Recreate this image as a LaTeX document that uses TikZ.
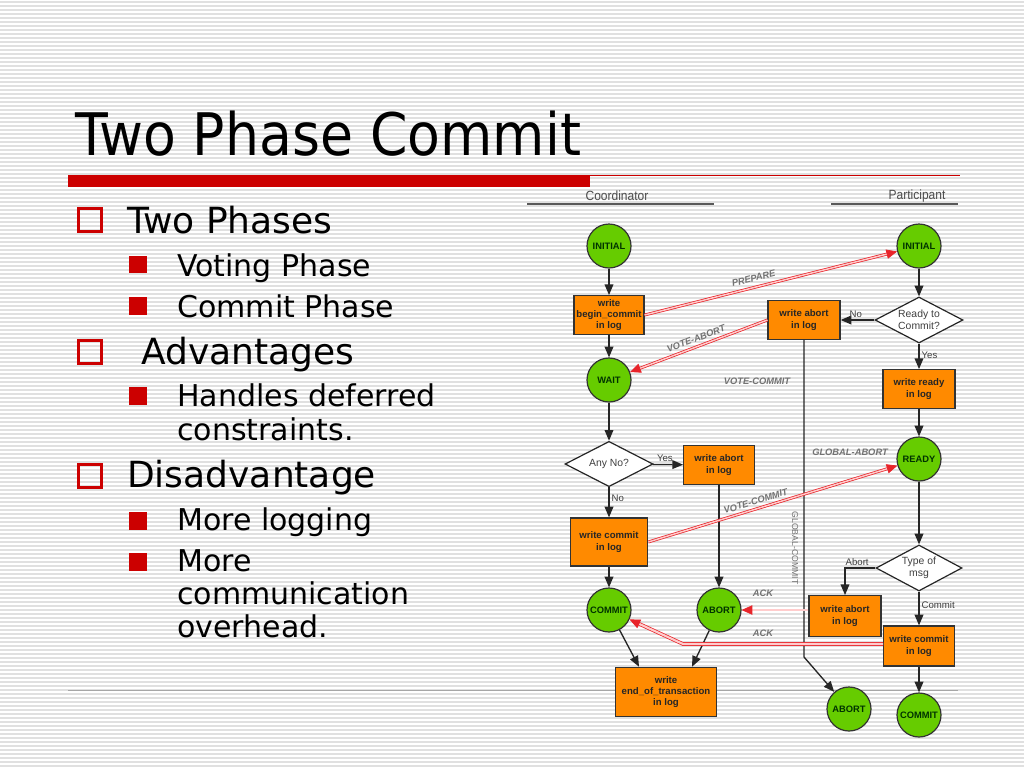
\documentclass[tikz,border=0pt]{standalone}
\usepackage{fontspec}
\setmainfont{DejaVu Sans}
\newfontfamily\diagfont{Liberation Sans}
\usetikzlibrary{arrows.meta,shapes.geometric,calc}

\definecolor{slidered}{HTML}{CC0000}
\definecolor{stripegray}{HTML}{E0E0E0}
\definecolor{nodegreen}{HTML}{66CC00}
\definecolor{nodeorange}{HTML}{FF8A00}
\definecolor{msgred}{HTML}{E8242A}

\begin{document}
\begin{tikzpicture}[x=0.75pt, y=-0.75pt,
  bigbox/.style={draw=slidered, line width=2.25pt},
  smallbox/.style={fill=slidered},
  headtext/.style={anchor=base west, inner sep=0pt, font=\fontsize{27}{27}\selectfont},
  subtext/.style={anchor=base west, inner sep=0pt, align=left, font=\fontsize{22.5}{25.5}\selectfont},
  state/.style={circle, draw=black!80, line width=0.9pt, fill=nodegreen, minimum size=33pt,
    inner sep=0pt, text=green!20!black, font=\diagfont\bfseries\fontsize{7}{8}\selectfont},
  logbox/.style={rectangle, draw=black!80, line width=0.9pt, fill=nodeorange, inner sep=1pt,
    align=center, text=black!85, font=\diagfont\bfseries\fontsize{7.2}{8.6}\selectfont},
  decision/.style={diamond, aspect=1.9, draw=black!85, line width=0.9pt, fill=white, inner sep=0pt,
    align=center, text=black!75, font=\diagfont\fontsize{7.8}{8.6}\selectfont},
  flow/.style={draw=black!85, line width=1pt, -{Triangle[length=8pt, width=6.5pt]}},
  flowlabel/.style={inner sep=1.5pt, text=black!75, font=\diagfont\fontsize{7.2}{8}\selectfont},
  msg/.style={draw=msgred, line width=0.55pt, double=pink!80, double distance=1.1pt,
    -{Triangle[length=8pt, width=7pt]}},
  msglabel/.style={inner sep=1pt, text=black!55, font=\diagfont\bfseries\itshape\fontsize{7}{7}\selectfont},
  lanehead/.style={inner sep=0pt, text=black!70, font=\diagfont\fontsize{10}{10}\selectfont}]

\useasboundingbox (0,0) rectangle (1024,768);
\fill[white] (0,0) rectangle (1024,768);
% striped slide background
\foreach \sy in {2,6,...,766}
  \draw[stripegray, line width=0.8pt] (0,\sy) -- (1024,\sy);

% title and rule
\node[anchor=base west, inner sep=0pt] (title) at (75,155)
  {\scalebox{0.915}[1]{\fontsize{44}{44}\selectfont Two Phase Commit}};
\fill[slidered] (68,175) rectangle (590,187);
\draw[slidered, line width=0.75pt] (590,175.5) -- (960,175.5);
\draw[black!35, line width=0.6pt] (68,690) -- (958,690);

% bullet list
\draw[bigbox] (78.5,208.5) rectangle (101.5,231.5);
\node[headtext] (phases) at (127,233) {Two Phases};
\fill[smallbox] (129,256) rectangle (147,273);
\node[subtext] (voting) at (177,276) {Voting Phase};
\fill[smallbox] (129,297) rectangle (147,315);
\node[subtext] (commitph) at (177,317) {Commit Phase};
\draw[bigbox] (78.5,340.5) rectangle (101.5,363.5);
\node[headtext] (adv) at (141,364) {Advantages};
\fill[smallbox] (129,387) rectangle (147,405);
% multi-line nodes sit on their last baseline
\node[subtext] (deferred) at (177,440) {Handles deferred\\constraints.};
\draw[bigbox] (78.5,464.5) rectangle (101.5,487.5);
\node[headtext] (disadv) at (127,487) {Disadvantage};
\fill[smallbox] (129,512) rectangle (147,530);
\node[subtext] (logging) at (177,530) {More logging};
\fill[smallbox] (129,553) rectangle (147,571);
\node[subtext, font=\fontsize{22.5}{24.4}\selectfont] (overhead) at (177,637)
  {More\\communication\\overhead.};

% lane headers
\node[lanehead] (coordhead) at (617,196) {\scalebox{0.9}[1]{Coordinator}};
\node[lanehead] (parthead) at (917,196) {\scalebox{0.9}[1]{Participant}};
\draw[black!65, line width=1.3pt] (527,204) -- (714,204);
\draw[black!65, line width=1.3pt] (831,204) -- (958,204);

% coordinator
\node[state] (cinit) at (609,246) {INITIAL};
\node[logbox, minimum width=52.5pt, minimum height=29pt] (cbegin) at (609,315)
  {write\\begin\_commit\\in log};
\node[state] (cwait) at (609,380) {WAIT};
\node[decision, minimum width=66pt, minimum height=34pt] (anyno) at (609,464) {Any No?};
\node[logbox, minimum width=53pt, minimum height=29pt] (cabortlog) at (719,465)
  {write abort\\in log};
\node[logbox, minimum width=58pt, minimum height=36pt] (ccommitlog) at (609,542)
  {write commit\\in log};
\node[state] (ccommit) at (609,610) {COMMIT};
\node[state] (cabort) at (719,610) {ABORT};
\node[logbox, minimum width=76pt, minimum height=37pt] (eot) at (666,692)
  {write\\end\_of\_transaction\\in log};

% participant
\node[state] (pinit) at (919,246) {INITIAL};
\node[decision, minimum width=66pt, minimum height=34.5pt] (readyq) at (919,320)
  {Ready to\\Commit?};
\node[logbox, minimum width=54pt, minimum height=29pt] (pabortlog) at (804,320)
  {write abort\\in log};
\node[logbox, minimum width=54pt, minimum height=29pt] (preadylog) at (919,389)
  {write ready\\in log};
\node[state] (pready) at (919,459) {READY};
\node[decision, minimum width=64.5pt, minimum height=34.5pt] (msgtype) at (919,568)
  {Type of\\msg};
\node[logbox, minimum width=54pt, minimum height=30.5pt] (pabortlog2) at (845,616)
  {write abort\\in log};
\node[logbox, minimum width=53pt, minimum height=30pt] (pcommitlog) at (919,646)
  {write commit\\in log};
\node[state] (pabort) at (849,709) {ABORT};
\node[state] (pcommit) at (919,715) {COMMIT};

% local transitions
\draw[flow] (cinit) -- (cbegin);
\draw[flow] (cbegin) -- (cwait);
\draw[flow] (cwait) -- (anyno);
\draw[flow] (anyno) -- node[flowlabel, above, pos=0.4] {Yes} (cabortlog);
\draw[flow] (anyno) -- node[flowlabel, right, pos=0.35] {No} (ccommitlog);
\draw[flow] (ccommitlog) -- (ccommit);
\draw[flow] (cabortlog) -- (cabort);
\draw[flow] (ccommit) -- ($(eot.north)+(-27,0)$);
\draw[flow] (cabort) -- ($(eot.north)+(26,0)$);
\draw[flow] (pinit) -- (readyq);
\draw[flow] (readyq) -- node[flowlabel, above, pos=0.55] {No} (pabortlog);
\draw[flow] (readyq) -- node[flowlabel, right, pos=0.45] {Yes} (preadylog);
\draw[flow] (preadylog) -- (pready);
\draw[flow] (pready) -- (msgtype);
\draw[flow] (msgtype.west) -| node[flowlabel, above, pos=0.3] {Abort} (pabortlog2);
\draw[flow] (msgtype) -- node[flowlabel, right, pos=0.4] {Commit} (pcommitlog);
\draw[flow] (pcommitlog) -- (pcommit);
\coordinate (pbend) at (804,657);
\draw[flow] (pabortlog) -- (pbend) -- (pabort);

% messages
\draw[msg] (cbegin.east) -- node[msglabel, sloped, above=3pt, pos=0.44] {PREPARE} (pinit);
\draw[msg] (pabortlog.west) -- node[msglabel, sloped, above=2pt, pos=0.5] {VOTE-ABORT} (cwait);
\draw[msg] (ccommitlog.east) -- node[msglabel, sloped, above=2pt, pos=0.44] {VOTE-COMMIT} (pready);
\draw[msg] (pabortlog2.west |- cabort) -- (cabort);
\coordinate (ackbend) at (683,644);
\draw[msg, double distance=1.6pt] (pcommitlog.west |- ackbend) -- (ackbend) -- (ccommit);
\node[msglabel] (votecommit) at (757,381) {VOTE-COMMIT};
\node[msglabel] (globalabort) at (850,452) {GLOBAL-ABORT};
\node[msglabel] (ackabort) at (763,593) {ACK};
\node[msglabel] (ackcommit) at (763,633) {ACK};
\node[msglabel, rotate=-90, font=\diagfont\fontsize{6.5}{7}\selectfont] (globalcommit) at (795,548) {GLOBAL-COMMIT};
\end{tikzpicture}
\end{document}
